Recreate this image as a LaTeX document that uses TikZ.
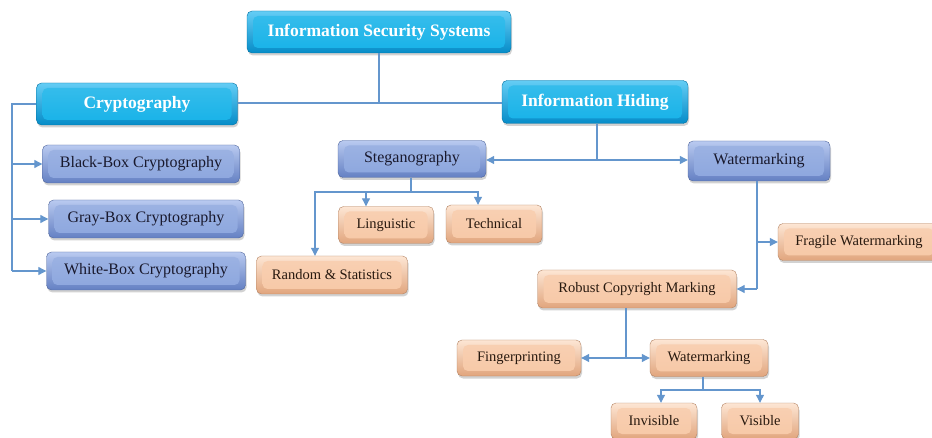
\documentclass[tikz,border=0pt]{standalone}
\usepackage{fontspec}
\setmainfont{Liberation Serif}
\usetikzlibrary{arrows.meta,shadows}
\definecolor{lnc}{RGB}{100,150,205}
\definecolor{cyT}{RGB}{100,205,245}
\definecolor{cyM}{RGB}{22,178,232}
\definecolor{cyB}{RGB}{5,140,200}
\definecolor{blT}{RGB}{185,202,240}
\definecolor{blM}{RGB}{140,166,222}
\definecolor{blB}{RGB}{100,128,195}
\definecolor{peT}{RGB}{253,230,212}
\definecolor{peM}{RGB}{247,200,166}
\definecolor{peB}{RGB}{225,165,125}
\definecolor{txd}{RGB}{25,25,45}
\definecolor{txp}{RGB}{40,25,15}
\tikzset{
  box/.style={rounded corners=5pt, inner sep=2pt, align=center,
    drop shadow={shadow xshift=1pt,shadow yshift=-2.5pt,opacity=0.35}},
  bevel/.style={path picture={\shade[top color=#1!85!white, bottom color=#1]
     ([xshift=6pt,yshift=-5pt]path picture bounding box.north west) rectangle
     ([xshift=-6pt,yshift=5pt]path picture bounding box.south east);}},
  cyanbox/.style={box, top color=cyT, bottom color=cyB, draw=cyB!80!black, line width=0.4pt,
    bevel=cyM, text=white, font=\fontsize{17.5}{20}\selectfont\bfseries},
  bluebox/.style={box, top color=blT, bottom color=blB, draw=blB!80!black, line width=0.4pt,
    bevel=blM, text=txd, font=\fontsize{16}{19}\selectfont},
  peachbox/.style={box, top color=peT, bottom color=peB, draw=peB!80!black, line width=0.4pt,
    bevel=peM, text=txp, font=\fontsize{14.5}{17}\selectfont},
  conn/.style={draw=lnc, line width=1.1pt},
  arr/.style={conn, -{Triangle[length=8pt,width=8pt]}}
}
\begin{document}
\begin{tikzpicture}[x=1pt,y=-1pt]
\useasboundingbox (0,0) rectangle (932,438);
\clip (0,0) rectangle (932,438);
\fill[white] (0,0) rectangle (932,438);
% nodes
\node[cyanbox, minimum width=264pt, minimum height=42pt] (iss) at (379,32) {Information Security Systems};
\node[cyanbox, minimum width=201pt, minimum height=42pt] (crypto) at (137,104) {Cryptography};
\node[cyanbox, minimum width=186pt, minimum height=43pt] (ih) at (595,102) {Information Hiding};
\node[bluebox, minimum width=197pt, minimum height=38pt] (bb) at (141,164) {Black-Box Cryptography};
\node[bluebox, minimum width=195pt, minimum height=38pt] (gb) at (146,219) {Gray-Box Cryptography};
\node[bluebox, minimum width=199pt, minimum height=38pt] (wb) at (146,271) {White-Box Cryptography};
\node[bluebox, minimum width=148pt, minimum height=37pt] (steg) at (412,159) {Steganography};
\node[bluebox, minimum width=142pt, minimum height=40pt] (wm) at (759,161) {Watermarking};
\node[peachbox, minimum width=95pt, minimum height=37pt] (ling) at (386,225) {Linguistic};
\node[peachbox, minimum width=96pt, minimum height=38pt] (tech) at (494,224) {Technical};
\node[peachbox, minimum width=151pt, minimum height=38pt] (rs) at (332,275) {Random \& Statistics};
\node[peachbox, minimum width=162pt, minimum height=37pt] (frag) at (859,242) {Fragile Watermarking};
\node[peachbox, minimum width=199pt, minimum height=38pt] (rob) at (637,289) {Robust Copyright Marking};
\node[peachbox, minimum width=124pt, minimum height=36pt] (fp) at (519,358) {Fingerprinting};
\node[peachbox, minimum width=118pt, minimum height=37pt] (wm2) at (709,358) {Watermarking};
\node[peachbox, minimum width=86pt, minimum height=36pt] (inv) at (654,421) {Invisible};
\node[peachbox, minimum width=77pt, minimum height=36pt] (vis) at (760,421) {Visible};
% junctions
\coordinate (hl) at (379,103);
\coordinate (cl) at (12,104);
\coordinate (ihj) at (597,160);
\coordinate (sj) at (411,192);
\coordinate (wj1) at (757,242);
\coordinate (wj2) at (757,289);
\coordinate (rj) at (626,358);
\coordinate (vj) at (703,390);
% connectors
\draw[conn] (iss.south) -- (hl);
\draw[conn] (crypto.east |- hl) -- (ih.west |- hl);
\draw[conn] (crypto.west) -- (cl) -- (cl |- wb.west);
\draw[arr] (cl |- bb.west) -- (bb.west);
\draw[arr] (cl |- gb.west) -- (gb.west);
\draw[arr] (cl |- wb.west) -- (wb.west);
\draw[conn] (ih.south -| ihj) -- (ihj);
\draw[arr] (ihj) -- (steg.east |- ihj);
\draw[arr] (ihj) -- (wm.west |- ihj);
\draw[conn] (steg.south -| sj) -- (sj);
\draw[arr] (sj) -| ([xshift=-17pt]rs.north);
\draw[arr] (sj) -| ([xshift=-20pt]ling.north);
\draw[arr] (sj) -| ([xshift=-16pt]tech.north);
\draw[conn] (wm.south -| wj1) -- (wj2);
\draw[arr] (wj1) -- (frag.west);
\draw[arr] (wj2) -- (rob.east);
\draw[conn] (rob.south -| rj) -- (rj);
\draw[arr] (rj) -- (fp.east);
\draw[arr] (rj) -- (wm2.west);
\draw[conn] (wm2.south -| vj) -- (vj);
\draw[arr] (vj) -| ([xshift=7pt]inv.north);
\draw[arr] (vj) -| (vis.north);
\end{tikzpicture}
\end{document}
